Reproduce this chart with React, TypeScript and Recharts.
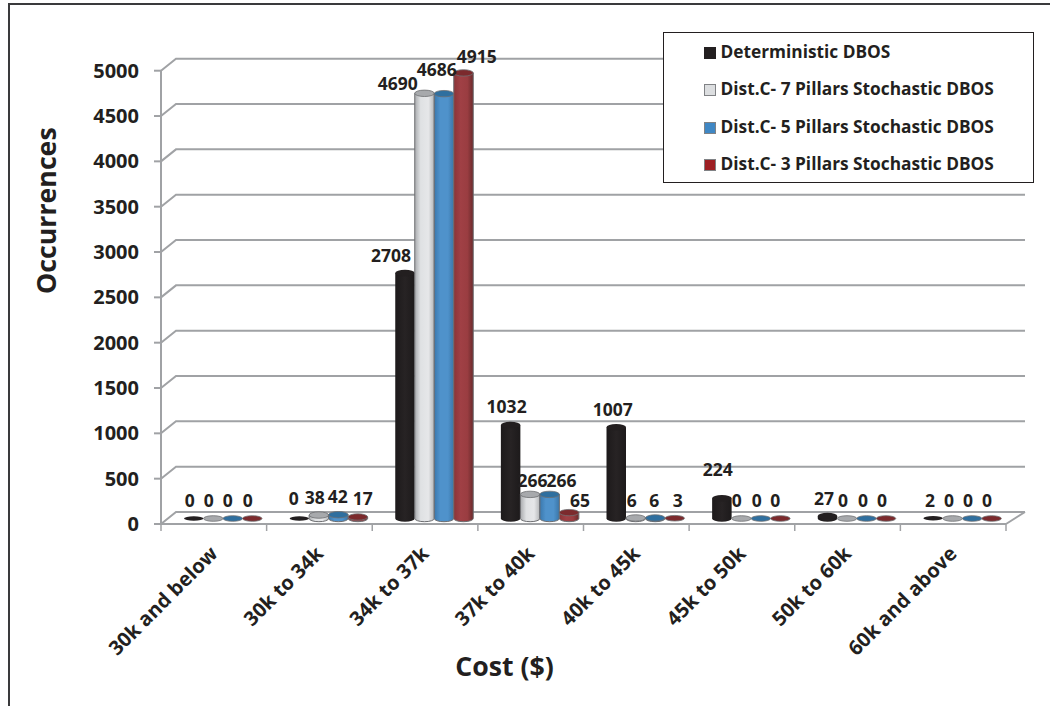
import React from 'react';
import { BarChart, Bar, XAxis, YAxis, CartesianGrid, Legend, LabelList, Label } from 'recharts';

// Cost bands and occurrence counts per solution method
const costBands = ['30k and below', '30k to 34k', '34k to 37k', '37k to 40k', '40k to 45k', '45k to 50k', '50k to 60k', '60k and above'];
const deterministic = [0, 0, 2708, 1032, 1007, 224, 27, 2];
const pillars7 = [0, 38, 4690, 266, 6, 0, 0, 0];
const pillars5 = [0, 42, 4686, 266, 6, 0, 0, 0];
const pillars3 = [0, 17, 4915, 65, 3, 0, 0, 0];
const yTicks = [0, 500, 1000, 1500, 2000, 2500, 3000, 3500, 4000, 4500, 5000];

const rows = costBands.map((band, i) => ({
  band,
  det: deterministic[i],
  p7: pillars7[i],
  p5: pillars5[i],
  p3: pillars3[i],
}));

const FONT = '"Open Sans", sans-serif';
const INK = '#231f20';
const RULE = '#a0a2a5';

// Pseudo-3D depth of the floor and back wall
const DEPTH_Y = 12;
const DEPTH_LEFT = 15;
const DEPTH_RIGHT = 19;
const BAR_SHIFT_X = 9;
const LABEL_SHIFT_X = 8;
const BAR_SHIFT_Y = -5.5;
const BAND_WIDTH = 845 / 8;

type Look = { name: string; key: string; swatch: string; swatchEdge: string; gradient: string; cap: string; edge: string };
const looks: Look[] = [
  { name: 'Deterministic DBOS', key: 'det', swatch: '#231f20', swatchEdge: '#231f20', gradient: 'url(#cylDet)', cap: '#231f20', edge: '#231f20' },
  { name: 'Dist.C- 7 Pillars Stochastic DBOS', key: 'p7', swatch: '#dcdee0', swatchEdge: '#808285', gradient: 'url(#cyl7)', cap: '#a7a9ac', edge: '#6d6e71' },
  { name: 'Dist.C- 5 Pillars Stochastic DBOS', key: 'p5', swatch: '#3f87c4', swatchEdge: '#808285', gradient: 'url(#cyl5)', cap: '#2f6f9f', edge: '#6d6e71' },
  { name: 'Dist.C- 3 Pillars Stochastic DBOS', key: 'p3', swatch: '#9e1f24', swatchEdge: '#808285', gradient: 'url(#cyl3)', cap: '#7c2a2d', edge: '#6d6e71' },
];

// Per-label offsets [dx, dy] from the top centre of each cylinder
const labelNudges: number[][][] = [
  [[-3, -18.5], [-4.6, -21], [-13, -18], [-3, -19], [-2.4, -18.3], [-3, -29], [-2.6, -18], [-2.2, -18.5]],
  [[-3.5, -18.5], [-3, -18.3], [-25.7, -10.6], [3.5, -14.4], [-3, -18], [-3.5, -18.5], [-3, -18.5], [-2.7, -18.5]],
  [[-4, -18.5], [0.4, -18.7], [-6.2, -25], [13, -14.4], [0, -18], [-3, -18.5], [-2.6, -18.5], [-3.2, -18.5]],
  [[-3.5, -18.5], [6, -19.3], [14.3, -17], [12, -13], [4, -18], [-4, -18.5], [-3, -18.5], [-3.7, -18.5]],
];

function Cylinder(props: any, look: Look) {
  const { x, y, width, height } = props;
  const rx = width / 2;
  const cx = x + rx;
  const ry = 3.2;
  const flat = height < 0.5;
  if (flat) {
    return (
      <g transform={`translate(${BAR_SHIFT_X},${BAR_SHIFT_Y})`}>
        <ellipse cx={cx} cy={y} rx={rx} ry={look.key === 'det' ? 2.2 : 2.8} fill={look.cap} stroke={look.edge} strokeWidth={look.key === 'det' ? 0 : 0.8} />
      </g>
    );
  }
  const bottom = y + height;
  const body = `M${x},${y} L${x},${bottom} A${rx},${ry} 0 0 0 ${x + width},${bottom} L${x + width},${y} Z`;
  return (
    <g transform={`translate(${BAR_SHIFT_X},${BAR_SHIFT_Y})`}>
      <path d={body} fill={look.gradient} stroke={look.edge} strokeWidth={look.key === 'det' ? 0 : 1} />
      <ellipse cx={cx} cy={y} rx={rx} ry={ry} fill={look.cap} stroke={look.edge} strokeWidth={look.key === 'det' ? 0 : 0.8} />
    </g>
  );
}

function valueLabel(seriesIndex: number) {
  return (props: any) => {
    const { x, y, width, value, index } = props;
    const [dx, dy] = labelNudges[seriesIndex][index];
    return (
      <text
        x={x + width / 2 + LABEL_SHIFT_X + dx}
        y={y + BAR_SHIFT_Y + dy}
        textAnchor="middle"
        dominantBaseline="central"
        fontFamily={FONT}
        fontWeight={700}
        fontSize={17.5}
        fill={INK}
      >
        {value}
      </text>
    );
  };
}

// Back-wall rule with the diagonal return to the value axis
function WallRule(props: any) {
  const { x1, x2, y1 } = props;
  const floor = Math.abs(y1 - 524) < 1;
  const backY = y1 - DEPTH_Y;
  return (
    <g stroke={RULE} strokeWidth={2} fill="none">
      <polyline points={`${x1},${y1} ${x1 + DEPTH_LEFT},${backY} ${x2 + DEPTH_RIGHT},${backY}`} />
      {floor ? <line x1={x2} y1={y1} x2={x2 + DEPTH_RIGHT} y2={backY} /> : null}
    </g>
  );
}

function CategoryTick(props: any) {
  const { x, y, payload, index } = props;
  const left = x - BAND_WIDTH / 2;
  return (
    <g>
      <line x1={left} x2={left} y1={524} y2={531} stroke={RULE} strokeWidth={1.5} />
      {index === costBands.length - 1 ? (
        <line x1={left + BAND_WIDTH} x2={left + BAND_WIDTH} y1={524} y2={531} stroke={RULE} strokeWidth={1.5} />
      ) : null}
      <text
        x={x + 5}
        y={y + 23}
        transform={`rotate(-45 ${x + 5} ${y + 23})`}
        textAnchor="end"
        fontFamily={FONT}
        fontWeight={700}
        fontSize={20}
        fill={INK}
      >
        {payload.value}
      </text>
    </g>
  );
}

function LegendBox() {
  return (
    <div
      style={{
        boxSizing: 'border-box',
        width: 371,
        height: 151,
        background: '#fff',
        border: '1.5px solid #231f20',
        position: 'relative',
        fontFamily: FONT,
        fontWeight: 700,
        fontSize: 17.3,
        color: INK,
      }}
    >
      {looks.map((look, i) => (
        <div key={look.key} style={{ position: 'absolute', left: 40, top: 7.5 + i * 37.4, height: 24, lineHeight: '24px', whiteSpace: 'nowrap' }}>
          <span
            style={{
              display: 'inline-block',
              boxSizing: 'border-box',
              width: 12,
              height: 12,
              marginRight: 5,
              background: look.swatch,
              border: `1.5px solid ${look.swatchEdge}`,
              verticalAlign: '-1px',
            }}
          />
          {look.name}
        </div>
      ))}
    </div>
  );
}

export default function App() {
  return (
    <div style={{ position: 'absolute', left: 0, top: 0, width: 1050, height: 706, background: '#fff' }}>
      <div style={{ position: 'absolute', left: 8, top: 3, right: 0, bottom: 0, borderLeft: '2px solid #3a3a3c', borderTop: '2px solid #3a3a3c' }} />
      <BarChart
        width={1050}
        height={706}
        data={rows}
        barSize={19.5}
        barGap={0}
        margin={{ left: 91, right: 44, top: 70.7, bottom: 22 }}
        style={{ position: 'absolute', left: 0, top: 0 }}
      >
        <defs>
          <linearGradient id="cylDet" x1="0" x2="1" y1="0" y2="0">
            <stop offset="0" stopColor="#1d1a1b" />
            <stop offset="0.5" stopColor="#272324" />
            <stop offset="1" stopColor="#1d1a1b" />
          </linearGradient>
          <linearGradient id="cyl7" x1="0" x2="1" y1="0" y2="0">
            <stop offset="0" stopColor="#a9abae" />
            <stop offset="0.3" stopColor="#dfe1e3" />
            <stop offset="0.7" stopColor="#e6e7e9" />
            <stop offset="1" stopColor="#b4b6b8" />
          </linearGradient>
          <linearGradient id="cyl5" x1="0" x2="1" y1="0" y2="0">
            <stop offset="0" stopColor="#3a78ad" />
            <stop offset="0.3" stopColor="#4f92cb" />
            <stop offset="0.7" stopColor="#4f92cb" />
            <stop offset="1" stopColor="#3a76a8" />
          </linearGradient>
          <linearGradient id="cyl3" x1="0" x2="1" y1="0" y2="0">
            <stop offset="0" stopColor="#8a3437" />
            <stop offset="0.35" stopColor="#a04045" />
            <stop offset="0.7" stopColor="#9a3d41" />
            <stop offset="1" stopColor="#6a2a2c" />
          </linearGradient>
        </defs>
        <CartesianGrid horizontal={(p: any) => <WallRule key={p.index ?? p.y1} {...p} />} vertical={false} />
        <XAxis
          dataKey="band"
          interval={0}
          height={160}
          tick={CategoryTick}
          tickLine={false}
          axisLine={{ stroke: RULE, strokeWidth: 2 }}
        >
          <Label value="Cost ($)" position="insideBottom" offset={22} dx={-79} dy={14} fontFamily={FONT} fontWeight={700} fontSize={26.7} fill={INK} />
        </XAxis>
        <YAxis
          domain={[0, 5000]}
          ticks={yTicks}
          width={70}
          interval={0}
          tickSize={7}
          tickMargin={15}
          tickLine={{ stroke: RULE, strokeWidth: 2 }}
          axisLine={{ stroke: RULE, strokeWidth: 2 }}
          tick={{ fontFamily: FONT, fontWeight: 700, fontSize: 20, fill: INK }}
        >
          <Label value="Occurrences" angle={-90} position="left" offset={0} dx={-44} dy={-170} fontFamily={FONT} fontWeight={700} fontSize={26.7} fill={INK} />
        </YAxis>
        {looks.map((look, s) => (
          <Bar
            key={look.key}
            dataKey={look.key}
            name={look.name}
            fill={look.swatch}
            isAnimationActive={false}
            minPointSize={0}
            shape={(p: any) => Cylinder(p, look)}
          >
            <LabelList dataKey={look.key} content={valueLabel(s)} />
          </Bar>
        ))}
        <Legend
          layout="vertical"
          align="center"
          verticalAlign="middle"
          content={<LegendBox />}
          wrapperStyle={{ left: 662.5, top: 31.5, width: 371, height: 151, margin: 0 }}
        />
      </BarChart>
    </div>
  );
}
